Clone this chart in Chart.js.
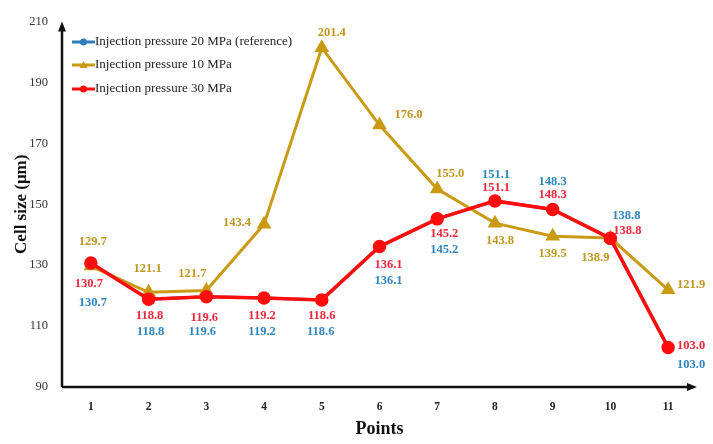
<!DOCTYPE html>
<html>
<head>
<meta charset="utf-8">
<script src="https://cdn.jsdelivr.net/npm/chart.js@4.4.1/dist/chart.umd.min.js"></script>
<style>
  html, body { margin: 0; padding: 0; background: #fff; }
  #wrap { width: 713px; height: 444px; position: relative; }
</style>
</head>
<body>
<div id="wrap"><canvas id="chart_here" width="713" height="444"></canvas></div>
<script>
'use strict';
// cell size chart - three injection pressures

// data
var pointLabels = ['1', '2', '3', '4', '5', '6', '7', '8', '9', '10', '11'];
var yTicks = [90, 110, 130, 150, 170, 190, 210];
var press20 = [130.7, 118.8, 119.6, 119.2, 118.6, 136.1, 145.2, 151.1, 148.3, 138.8, 103.0];
var press10 = [129.7, 121.1, 121.7, 143.4, 201.4, 176.0, 155.0, 143.8, 139.5, 138.9, 121.9];
var press30 = [130.7, 118.8, 119.6, 119.2, 118.6, 136.1, 145.2, 151.1, 148.3, 138.8, 103.0];

var seriesNames = [
  'Injection pressure 20 MPa (reference)',
  'Injection pressure 10 MPa',
  'Injection pressure 30 MPa'
];

// label placement (pixel offsets from each point)
var offs20 = [[2,40],[2,32],[-4,35],[-2,34],[-1,32],[9,34],[7,31],[1,-26],[0,-28],[16,-23],[23,17]];
var offs10 = [[2,-24],[-1,-24],[-14,-17],[-27,-2],[10,-15],[29,-10],[13,-15],[5,18],[0,18],[-15,20],[23,-5]];
var offs30 = [[-2,21],[1,16],[-2,21],[-2,18],[0,16],[9,18],[7,15],[1,-13],[0,-15],[17,-8],[23,-2]];

var BLUE = '#2E7DBA';
var GOLD = '#C99A14';
var RED = '#FF0D0D';
var SERIF = "'Liberation Serif', 'DejaVu Serif', serif";

var valueLabels = {
  id: 'valueLabels',
  afterDatasetsDraw: function(chart) {
    var ctx = chart.ctx;
    var sets = [
      { idx: 0, offs: offs20, color: '#2E86C1' },
      { idx: 1, offs: offs10, color: '#C0961E' },
      { idx: 2, offs: offs30, color: '#F0283C' }
    ];
    ctx.save();
    ctx.font = 'bold 12.5px ' + SERIF;
    ctx.textAlign = 'center';
    ctx.textBaseline = 'middle';
    sets.forEach(function(s) {
      var meta = chart.getDatasetMeta(s.idx);
      var vals = chart.data.datasets[s.idx].data;
      ctx.fillStyle = s.color;
      meta.data.forEach(function(pt, i) {
        ctx.fillText(vals[i].toFixed(1), pt.x + s.offs[i][0], pt.y + s.offs[i][1]);
      });
    });
    ctx.restore();
  }
};

var axesAndLegend = {
  id: 'axesAndLegend',
  afterDraw: function(chart) {
    var ctx = chart.ctx;
    var a = chart.chartArea;
    ctx.save();
    // axis lines with arrow heads
    ctx.strokeStyle = '#111';
    ctx.fillStyle = '#111';
    ctx.lineWidth = 2.5;
    ctx.beginPath();
    ctx.moveTo(a.left, a.bottom);
    ctx.lineTo(a.left, a.top + 6);
    ctx.moveTo(a.left, a.bottom);
    ctx.lineTo(a.right - 6, a.bottom);
    ctx.stroke();
    ctx.beginPath();
    ctx.moveTo(a.left, a.top);
    ctx.lineTo(a.left - 4, a.top + 10);
    ctx.lineTo(a.left + 4, a.top + 10);
    ctx.closePath();
    ctx.fill();
    ctx.beginPath();
    ctx.moveTo(a.right, a.bottom);
    ctx.lineTo(a.right - 10, a.bottom - 4);
    ctx.lineTo(a.right - 10, a.bottom + 4);
    ctx.closePath();
    ctx.fill();

    // legend in the top left of the plot
    var colors = [BLUE, GOLD, RED];
    var shapes = ['circle', 'triangle', 'circle'];
    var rows = [42, 65, 89];
    ctx.font = '13px ' + SERIF;
    ctx.textBaseline = 'middle';
    ctx.textAlign = 'left';
    for (var k = 0; k < 3; k++) {
      var y = rows[k];
      ctx.strokeStyle = colors[k];
      ctx.fillStyle = colors[k];
      ctx.lineWidth = 3;
      ctx.beginPath();
      ctx.moveTo(a.left + 10, y);
      ctx.lineTo(a.left + 33, y);
      ctx.stroke();
      ctx.beginPath();
      if (shapes[k] === 'triangle') {
        ctx.moveTo(a.left + 21.5, y - 4);
        ctx.lineTo(a.left + 25.5, y + 3);
        ctx.lineTo(a.left + 17.5, y + 3);
        ctx.closePath();
      } else {
        ctx.arc(a.left + 21.5, y, 3.5, 0, Math.PI * 2);
      }
      ctx.fill();
      ctx.fillStyle = '#222';
      ctx.fillText(seriesNames[k], a.left + 33, y);
    }
    ctx.restore();
  }
};

var ctx = document.getElementById('chart_here').getContext('2d');
var cellChart = new Chart(ctx, {
  type: 'line',
  data: {
    labels: pointLabels,
    datasets: [
      {
        label: seriesNames[0],
        data: press20,
        borderColor: BLUE,
        backgroundColor: BLUE,
        borderWidth: 3,
        pointRadius: 4.5,
        pointStyle: 'circle',
        order: 3
      },
      {
        label: seriesNames[1],
        data: press10,
        borderColor: GOLD,
        backgroundColor: GOLD,
        borderWidth: 3,
        pointRadius: 5.5,
        pointStyle: 'triangle',
        order: 2
      },
      {
        label: seriesNames[2],
        data: press30,
        borderColor: RED,
        backgroundColor: RED,
        borderWidth: 3.5,
        pointRadius: 5,
        pointStyle: 'circle',
        order: 1
      }
    ]
  },
  options: {
    responsive: false,
    animation: false,
    devicePixelRatio: 1,
    layout: { padding: { left: 0, right: 16, top: 15, bottom: 0 } },
    plugins: {
      legend: { display: false },
      tooltip: { enabled: false }
    },
    scales: {
      x: {
        offset: true,
        grid: { display: false, drawTicks: false },
        border: { display: false },
        ticks: {
          color: '#222',
          padding: 13,
          font: { family: SERIF, size: 11.5, weight: 'bold' }
        },
        title: {
          display: true,
          text: 'Points',
          color: '#111',
          padding: { top: 0, bottom: 4 },
          font: { family: SERIF, size: 18, weight: 'bold' }
        },
        afterFit: function(scale) { scale.height = 57; }
      },
      y: {
        min: 90,
        max: 210,
        afterBuildTicks: function(scale) {
          scale.ticks = yTicks.map(function(v) { return { value: v }; });
        },
        grid: { display: false, drawTicks: false },
        border: { display: false },
        ticks: {
          color: '#333',
          padding: 14,
          font: { family: SERIF, size: 12.5 }
        },
        title: {
          display: true,
          text: 'Cell size (μm)',
          color: '#111',
          padding: { top: 11, bottom: 0 },
          font: { family: SERIF, size: 17, weight: 'bold' }
        },
        afterFit: function(scale) { scale.width = 62; }
      }
    }
  },
  plugins: [valueLabels, axesAndLegend]
});
</script>
</body>
</html>
